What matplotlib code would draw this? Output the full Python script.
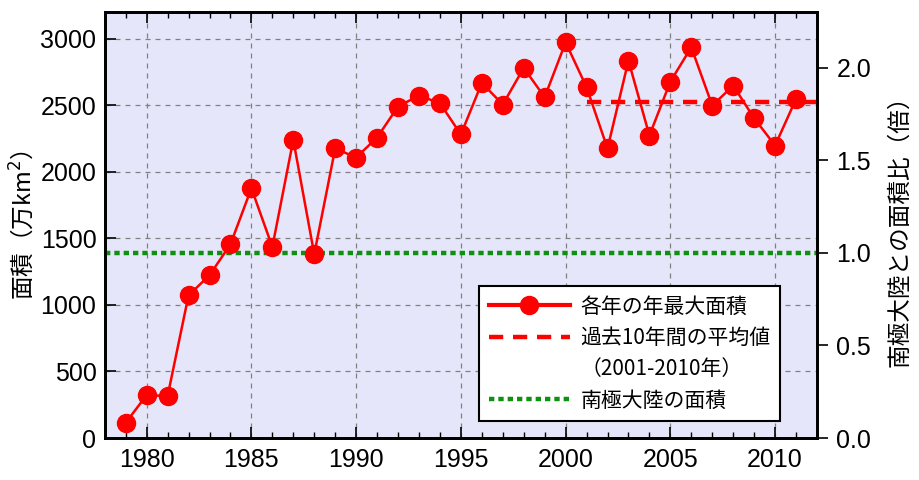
import matplotlib
matplotlib.use('Agg')
import matplotlib.pyplot as plt
from matplotlib.lines import Line2D
from matplotlib.ticker import MultipleLocator, FormatStrFormatter
import numpy as np

plt.rcParams['font.family'] = ['Liberation Sans', 'Noto Sans CJK JP', 'DejaVu Sans']

# 年最大面積 (万km2)
years = list(range(1979, 2012))
area = [115, 322, 315, 1072, 1222, 1455, 1876, 1435, 2240, 1380,
        2175, 2107, 2257, 2490, 2572, 2515, 2280, 2667, 2505, 2780,
        2560, 2972, 2635, 2175, 2835, 2272, 2677, 2935, 2497, 2647,
        2402, 2197, 2547]
avg_years = [2001, 2012]
antarctica = 1390  # 南極大陸の面積

labels = ['各年の年最大面積', '過去10年間の平均値', '（2001-2010年）', '南極大陸の面積']

avg = np.mean(area[years.index(2001):years.index(2010) + 1])

fig = plt.figure(figsize=(9.19, 4.8), dpi=100)
ax = fig.add_axes([0.114, 0.0875, 0.775, 0.8875])
ax.set_facecolor('#e6e6fa')

ax.plot([1978, 2012], [antarctica, antarctica], color='#109010', lw=3.2,
        linestyle=(0, (1.2, 0.9)), zorder=3)
ax.plot(avg_years, [avg, avg], color='red', lw=3.2, linestyle=(0, (3.2, 2.2)), zorder=3)
ax.plot(years, area, color='red', lw=1.8, marker='o', markersize=13, zorder=4)

ax.set_xlim(1978, 2012)
ax.set_ylim(0, 3200)
ax.xaxis.set_major_locator(MultipleLocator(5))
ax.xaxis.set_minor_locator(MultipleLocator(1))
ax.yaxis.set_major_locator(MultipleLocator(500))
ax.grid(True, which='major', color='#808080', linestyle=(0, (4, 4)), lw=0.9)
ax.tick_params(axis='x', which='both', direction='in', top=True, bottom=True,
               labelsize=18, pad=7)
ax.tick_params(axis='x', which='major', length=8, width=1.2)
ax.tick_params(axis='x', which='minor', length=4, width=1)
ax.tick_params(axis='y', direction='in', length=8, width=1.2, labelsize=18, pad=6)
ax.set_ylabel('面積（万km$^2$）', fontsize=17, labelpad=3, family='Noto Sans CJK JP')
for s in ax.spines.values():
    s.set_linewidth(2)

ax2 = ax.twinx()
ax2.set_ylim(0, 3200 / antarctica)
ax2.yaxis.set_major_locator(MultipleLocator(0.5))
ax2.yaxis.set_major_formatter(FormatStrFormatter('%.1f'))
ax2.tick_params(axis='y', direction='out', length=8, width=1.2, labelsize=18, pad=6)
ax2.set_ylabel('南極大陸との面積比（倍）', fontsize=17, labelpad=12, family='Noto Sans CJK JP')
for s in ax2.spines.values():
    s.set_linewidth(2)

handles = [
    Line2D([], [], color='red', lw=3, marker='o', markersize=13),
    Line2D([], [], color='red', lw=3.2, linestyle=(0, (3.2, 2.2))),
    Line2D([], [], color='none'),
    Line2D([], [], color='#109010', lw=3.2, linestyle=(0, (1.2, 0.9))),
]
leg = ax.legend(handles, labels, loc='lower right', bbox_to_anchor=(0.948, 0.04),
                borderaxespad=0,
                prop={'family': 'Noto Sans CJK JP', 'size': 15}, frameon=True,
                fancybox=False, edgecolor='black', framealpha=1,
                handlelength=3.9, handletextpad=0.5, borderpad=0.45,
                labelspacing=0.45)
leg.get_frame().set_linewidth(1.5)
leg.set_zorder(10)

fig.savefig('out.png', dpi=100)
